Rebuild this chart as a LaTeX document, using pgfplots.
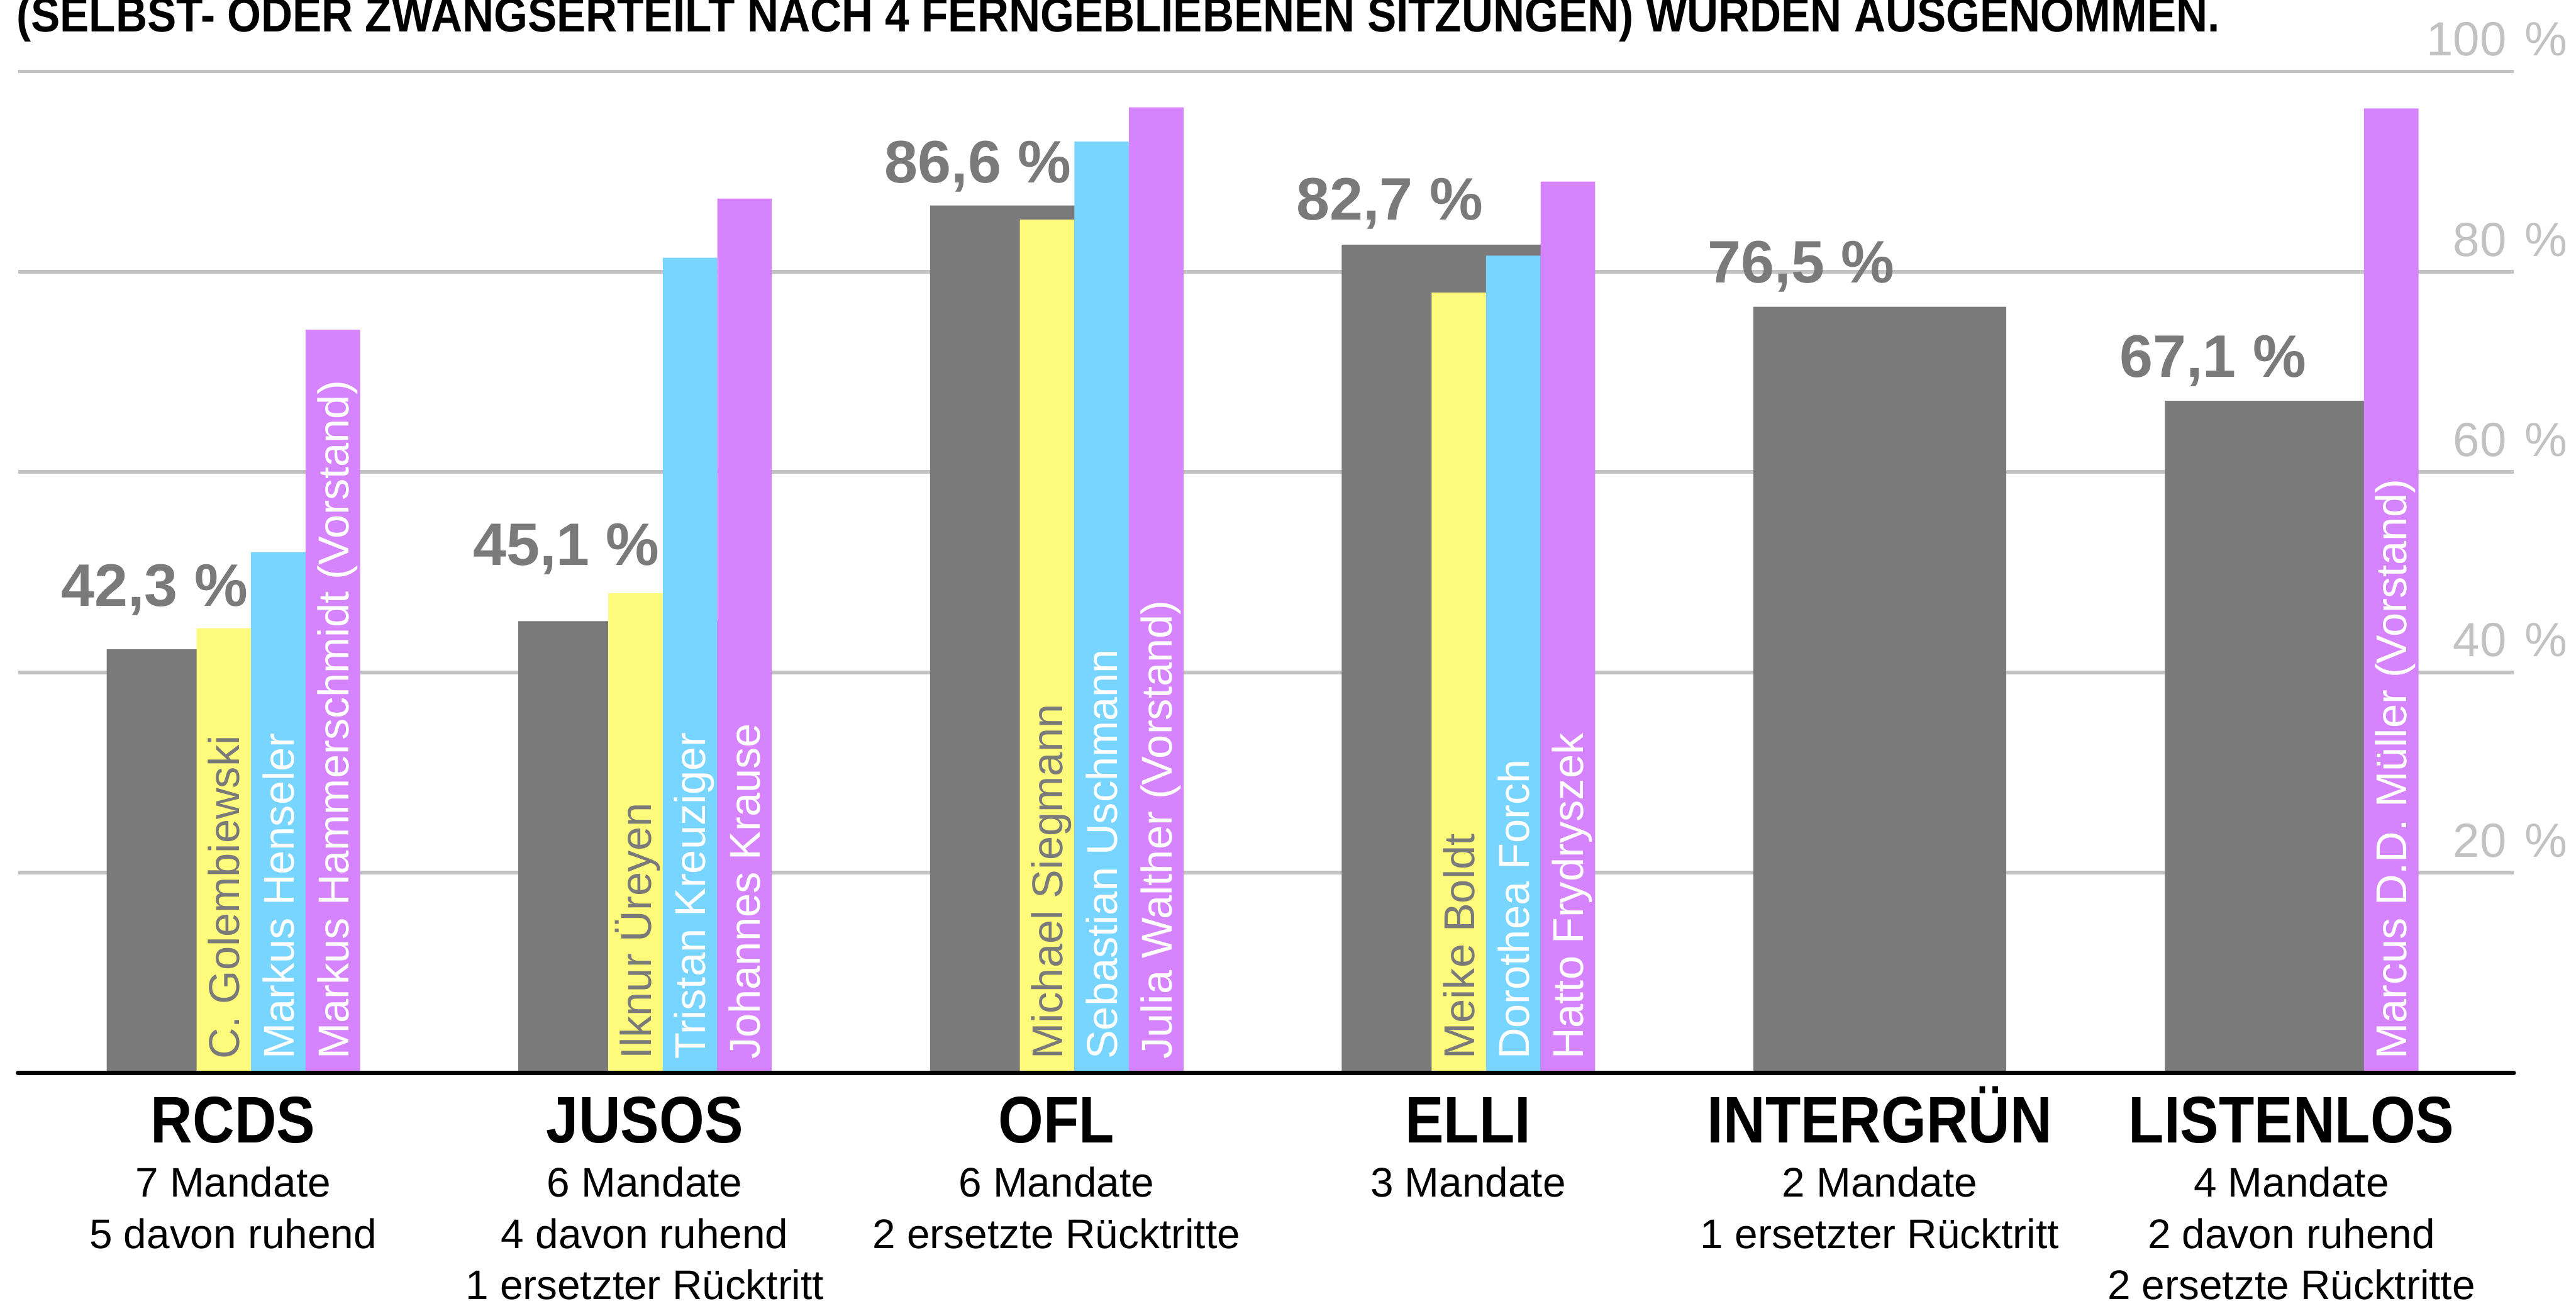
\documentclass[border=0pt]{standalone}
\usepackage{fontspec}
\usepackage{graphicx}
\usepackage{pgfplots}
\pgfplotsset{compat=1.18}
\setmainfont{Liberation Sans}
\newfontfamily\headfont{Liberation Sans Bold}[FakeStretch=0.88]
\newfontfamily\boldfont{Liberation Sans Bold}
\definecolor{barGray}{HTML}{7A7A7A}
\definecolor{barYellow}{HTML}{FDFA7C}
\definecolor{barBlue}{HTML}{77D5FF}
\definecolor{barPurple}{HTML}{D684FE}
\definecolor{gridGray}{HTML}{C2C2C2}
\newcommand\barname[3]{\node[rotate=90,anchor=base west,inner sep=0pt,text=#3,font=\fontsize{0.72cm}{0.8cm}\selectfont] at (axis cs:#1,1.32) {#2};}
\newcommand\pct[3]{\node[anchor=base,inner sep=0pt,text=barGray,font=\boldfont\fontsize{1cm}{1.2cm}\selectfont] at (axis cs:#1,#2) {#3};}
\newcommand\party[2]{\node[anchor=base,inner sep=0pt,font=\headfont\fontsize{1.1cm}{1.3cm}\selectfont,yshift=-1.16cm] at (axis cs:#1,0) {#2};}
\newcommand\sub[3]{\node[anchor=base,inner sep=0pt,font=\fontsize{0.69cm}{0.8cm}\selectfont,yshift=#2] at (axis cs:#1,0) {#3};}
\begin{document}
\begin{tikzpicture}
\begin{axis}[
  at={(0,0)}, anchor=south west,
  scale only axis, width=41.65cm, height=16.71cm,
  xmin=30, xmax=4195, ymin=0, ymax=100,
  xtick=\empty, ytick={20,40,60,80,100},
  yticklabels={20\hspace{0.3cm}\%,40\hspace{0.3cm}\%,60\hspace{0.3cm}\%,80\hspace{0.3cm}\%,100\hspace{0.3cm}\%},
  yticklabel pos=right,
  yticklabel style={anchor=base east, inner sep=0pt, xshift=0.9cm, yshift=0.26cm, text=gridGray, font=\fontsize{0.8cm}{0.96cm}\selectfont},
  major tick length=0pt,
  ymajorgrids, grid style={gridGray, line width=0.06cm},
  axis line style={draw=none},
  clip=false,
]
% party totals (gray, full group width)
\addplot[ybar, bar width=422, bar shift=0pt, fill=barGray, draw=none]
  coordinates {(389,42.3) (1076,45.1) (1763,86.6) (2450,82.7) (3137,76.5) (3824,67.1)};
% candidate slot 1 (yellow)
\addplot[ybar, bar width=91, bar shift=0pt, fill=barYellow, draw=none]
  coordinates {(373.5,44.4) (1060.5,47.9) (1747.5,85.2) (2434.5,77.9)};
% candidate slot 2 (blue)
\addplot[ybar, bar width=91, bar shift=0pt, fill=barBlue, draw=none]
  coordinates {(464.5,52.0) (1151.5,81.4) (1838.5,93.0) (2525.5,81.6)};
% candidate slot 3 (purple)
\addplot[ybar, bar width=91, bar shift=0pt, fill=barPurple, draw=none]
  coordinates {(555.5,74.2) (1242.5,87.3) (1929.5,96.4) (2616.5,89.0) (3990.5,96.3)};

\draw[black, line width=0.074cm, line cap=round] (axis cs:30,0) -- (axis cs:4195,0);

% names inside bars
\barname{399.5}{C. Golembiewski}{barGray}
\barname{490.5}{Markus Henseler}{white}
\barname{581.5}{Markus Hammerschmidt (Vorstand)}{white}
\barname{1086.5}{Ilknur Üreyen}{barGray}
\barname{1177.5}{Tristan Kreuziger}{white}
\barname{1268.5}{Johannes Krause}{white}
\barname{1773.5}{Michael Siegmann}{barGray}
\barname{1864.5}{Sebastian Uschmann}{white}
\barname{1955.5}{Julia Walther (Vorstand)}{white}
\barname{2460.5}{Meike Boldt}{barGray}
\barname{2551.5}{Dorothea Forch}{white}
\barname{2642.5}{Hatto Frydryszek}{white}
\barname{4016.5}{Marcus D.D. Müller (Vorstand)}{white}

% percentage labels
\pct{258}{46.62}{42,3 \%}
\pct{945}{50.69}{45,1 \%}
\pct{1632}{88.87}{86,6 \%}
\pct{2319}{85.18}{82,7 \%}
\pct{3006}{78.86}{76,5 \%}
\pct{3693}{69.47}{67,1 \%}

% category labels
\party{389}{RCDS}
\party{1076}{JUSOS}
\party{1763}{OFL}
\party{2450}{ELLI}
\party{3137}{INTERGRÜN}
\party{3824}{LISTENLOS}
\sub{389}{-2.07cm}{7 Mandate}
\sub{389}{-2.93cm}{5 davon ruhend}
\sub{1076}{-2.07cm}{6 Mandate}
\sub{1076}{-2.93cm}{4 davon ruhend}
\sub{1076}{-3.78cm}{1 ersetzter Rücktritt}
\sub{1763}{-2.07cm}{6 Mandate}
\sub{1763}{-2.93cm}{2 ersetzte Rücktritte}
\sub{2450}{-2.07cm}{3 Mandate}
\sub{3137}{-2.07cm}{2 Mandate}
\sub{3137}{-2.93cm}{1 ersetzter Rücktritt}
\sub{3824}{-2.07cm}{4 Mandate}
\sub{3824}{-2.93cm}{2 davon ruhend}
\sub{3824}{-3.78cm}{2 ersetzte Rücktritte}

% clipped title line at the top
\node[anchor=base west, inner sep=0pt] at (axis cs:27,103.97)
  {\resizebox{36.77cm}{0.59cm}{\boldfont (SELBST- ODER ZWANGSERTEILT NACH 4 FERNGEBLIEBENEN SITZUNGEN) WURDEN AUSGENOMMEN.}};
\end{axis}
\pgfresetboundingbox
\useasboundingbox (-0.30,-3.80) rectangle (42.69,17.90);
\end{tikzpicture}
\end{document}
